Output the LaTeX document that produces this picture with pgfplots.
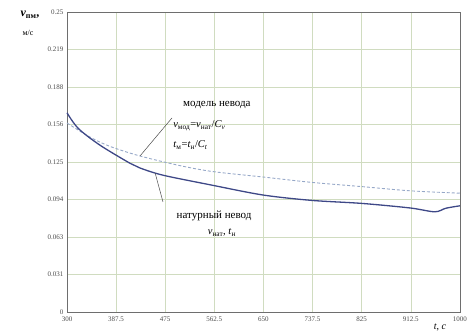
\documentclass[border=0pt]{standalone}
\usepackage{pgfplots}
\pgfplotsset{compat=1.18}
\usepackage{fontspec}
\setmainfont{Liberation Serif}
\definecolor{gridc}{RGB}{208,220,192}
\definecolor{solidc}{RGB}{62,72,135}
\definecolor{dashc}{RGB}{150,168,200}
\definecolor{axc}{RGB}{110,110,110}
\begin{document}
\begin{tikzpicture}[x=1pt,y=1pt]
\useasboundingbox (0,0) rectangle (471,335);
\begin{axis}[
  at={(67pt,23pt)}, anchor=south west,
  scale only axis, width=393pt, height=300pt,
  xmin=300, xmax=1000, ymin=0, ymax=0.25,
  xtick={300,387.5,475,562.5,650,737.5,825,912.5,1000},
  xticklabels={300,387.5,475,562.5,650,737.5,825,912.5,1000},
  ytick={0,0.03125,0.0625,0.09375,0.125,0.15625,0.1875,0.21875,0.25},
  yticklabels={0,0.031,0.063,0.094,0.125,0.156,0.188,0.219,0.25},
  tick label style={font=\fontsize{7}{8}\selectfont, color=black!70},
  grid=major,
  major grid style={color=gridc, line width=0.7pt},
  axis line style={color=axc, line width=0.8pt},
  tick style={draw=none},
  xticklabel style={yshift=-1pt},
  clip=false,
]
\addplot[dashc, densely dashed, line width=0.9pt, smooth] coordinates {
(300,0.1575) (340,0.146) (376.6,0.138) (430,0.130) (501,0.122) (560,0.117)
(649,0.1125) (736,0.108) (825,0.1045) (911,0.101) (1000,0.099)};
\addplot[solidc, line width=1.3pt, smooth] coordinates {
(300,0.166) (320,0.153) (358.8,0.139) (412,0.124) (430,0.120) (471,0.114)
(555,0.106) (649,0.0975) (736,0.093) (825,0.0905) (911,0.0867)
(955,0.0835) (975,0.0865) (1000,0.0885)};
\draw[black!70, line width=0.5pt] (axis cs:487,0.1617) -- (axis cs:430,0.130);
\draw[black!70, line width=0.5pt] (axis cs:457,0.1158) -- (axis cs:471,0.0917);
\node[font=\fontsize{11}{12}\selectfont] at (axis cs:567,0.1725) {модель невода};
\node[font=\fontsize{10.5}{12}\selectfont, anchor=west, inner sep=0pt] at (axis cs:489,0.155)
  {\textit{v}\textsubscript{мод}=\textit{v}\textsubscript{нат}/\textit{C\textsubscript{v}}};
\node[font=\fontsize{10.5}{12}\selectfont, anchor=west, inner sep=0pt] at (axis cs:489,0.139)
  {\textit{t}\textsubscript{м}=\textit{t}\textsubscript{н}/\textit{C\textsubscript{t}}};
\node[font=\fontsize{11}{12}\selectfont] at (axis cs:562,0.080) {натурный невод};
\node[font=\fontsize{10.5}{12}\selectfont] at (axis cs:576,0.066)
  {\textit{v}\textsubscript{нат}, \textit{t}\textsubscript{н}};
\end{axis}
\node[font=\fontsize{12}{13}\selectfont\bfseries] at (30,320) {\textit{v}\textsubscript{пм},};
\node[font=\fontsize{8}{9}\selectfont] at (28,302) {м/с};
\node[font=\fontsize{10}{11}\selectfont] at (440,8) {\textit{t}, \textit{с}};
\end{tikzpicture}
\end{document}
